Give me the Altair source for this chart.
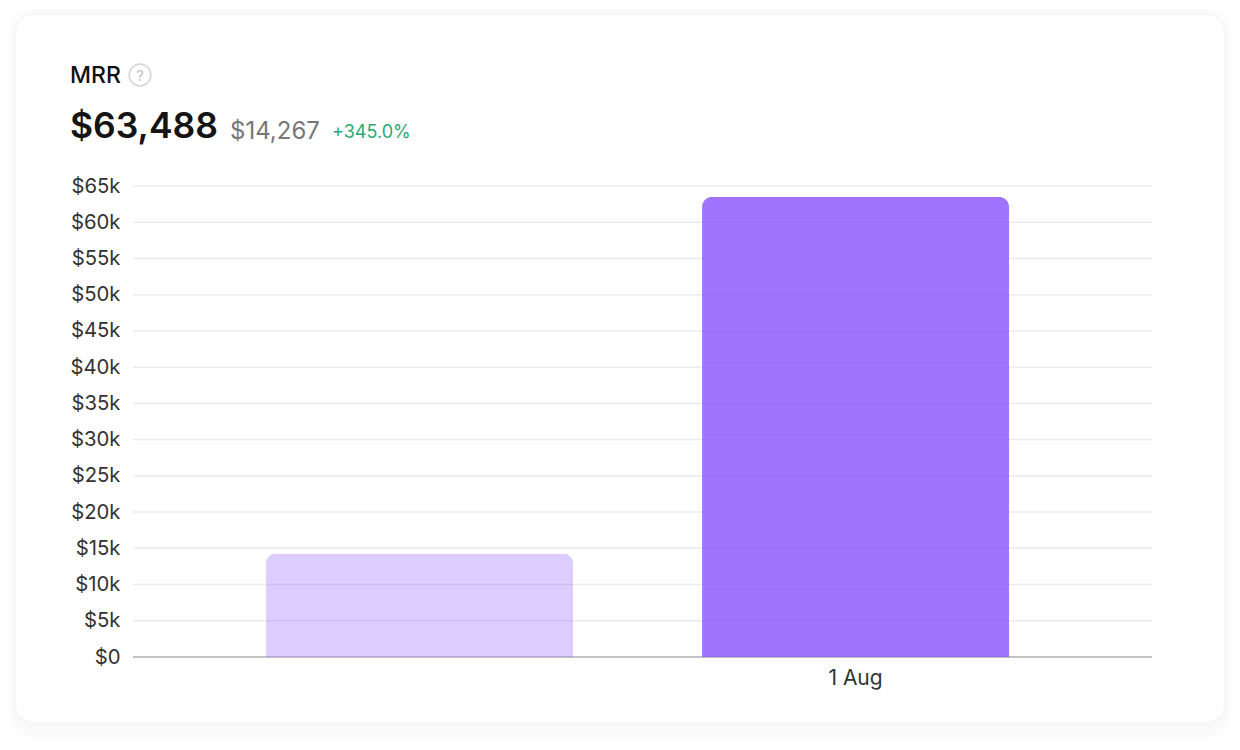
import altair as alt
import pandas as pd

periods = ["Previous", "1 Aug"]
mrr = [14267, 63488]
bar_colors = ["#8b55ff", "#8b55ff"]
bar_opacity = [0.3, 0.82]
y_ticks = list(range(0, 65001, 5000))
x_labels = ["1 Aug"]

title = "MRR"
headline = "$63,488"
previous = "$14,267"
change = "+345.0%"

FONT = "Inter"
df = pd.DataFrame({"period": periods, "mrr": mrr, "fill": bar_colors, "alpha": bar_opacity})
ticks = pd.DataFrame({"v": y_ticks})
base_df = pd.DataFrame({"v": [0]})
dummy = pd.DataFrame({"a": [0]})

W, H = 1019, 471
x_scale = alt.Scale(domain=periods, paddingInner=0.296, paddingOuter=0.3165, align=0.482)
y_scale = alt.Scale(domain=[0, 65000], nice=False)
y_axis = alt.Axis(values=y_ticks, ticks=False, domain=False, grid=False, title=None,
                  labelExpr="datum.value === 0 ? '$0' : '$' + datum.value / 1000 + 'k'",
                  labelFont=FONT, labelFontSize=20.3, labelColor="#333333",
                  labelPadding=13, zindex=1)


def card(grow, fill, opacity, radius):
    return alt.Chart(dummy).mark_rect(
        fill=fill, opacity=opacity, cornerRadius=radius + grow
    ).encode(
        x=alt.value(-117 - grow), x2=alt.value(1091 + grow),
        y=alt.value(-171 - grow), y2=alt.value(536 + grow * 2.6),
    )


shadow = [card(g, "#000000", 0.0035, 18) for g in (8, 7, 6, 5, 4, 3, 2, 1)]
panel = card(0, "#ffffff", 1, 18)

grid = alt.Chart(ticks).mark_rule(color="#ebebeb", strokeWidth=1.5).encode(
    y=alt.Y("v:Q", scale=y_scale, axis=y_axis)
)
baseline = alt.Chart(base_df).mark_rule(color="#b5b5b5", strokeWidth=1.5).encode(
    y=alt.Y("v:Q", scale=y_scale, axis=y_axis)
)
bars = alt.Chart(df).mark_bar(
    cornerRadiusTopLeft=10, cornerRadiusTopRight=10
).encode(
    x=alt.X("period:N", sort=periods, scale=x_scale, title=None,
            axis=alt.Axis(values=x_labels, ticks=False, domain=False, grid=False, labelAngle=0,
                          labelFont=FONT, labelFontSize=21, labelColor="#333333",
                          labelPadding=10, zindex=1)),
    y=alt.Y("mrr:Q", scale=y_scale, axis=y_axis),
    fill=alt.Fill("fill:N", scale=None),
    opacity=alt.Opacity("alpha:Q", scale=None),
)


def label(text, x, y, size, color, weight=400):
    return alt.Chart(pd.DataFrame({"t": [text]})).mark_text(
        font=FONT, fontSize=size, color=color, fontWeight=weight, align="left", baseline="middle"
    ).encode(text="t:N", x=alt.value(x - 133), y=alt.value(y - 186))


help_ring = alt.Chart(dummy).mark_point(
    shape="circle", filled=False, stroke="#c9c9c9", strokeWidth=1.6, size=470
).encode(x=alt.value(140 - 133), y=alt.value(75 - 186))
help_mark = alt.Chart(pd.DataFrame({"t": ["?"]})).mark_text(
    font=FONT, fontSize=15, color="#c4c4c4", align="center", baseline="middle"
).encode(text="t:N", x=alt.value(140 - 133), y=alt.value(75.5 - 186))

texts = [
    label(title, 70, 76, 23, "#111111", 500),
    help_ring, help_mark,
    label(headline, 70, 127, 35.5, "#141414", 600),
    label(previous, 230, 131.5, 24, "#777777"),
    label(change, 332, 132.5, 18, "#2aa876"),
]

chart = alt.layer(*shadow, panel, grid, baseline, bars, *texts).resolve_scale(
    x="shared", y="shared"
).properties(
    width=W, height=H,
    autosize=alt.AutoSizeParams(type="none"),
    padding={"left": 125, "top": 178, "right": 80, "bottom": 85},
    background="#ffffff",
).configure_view(stroke=None)

chart.save("out.html", embed_options={"renderer": "svg", "actions": False})
